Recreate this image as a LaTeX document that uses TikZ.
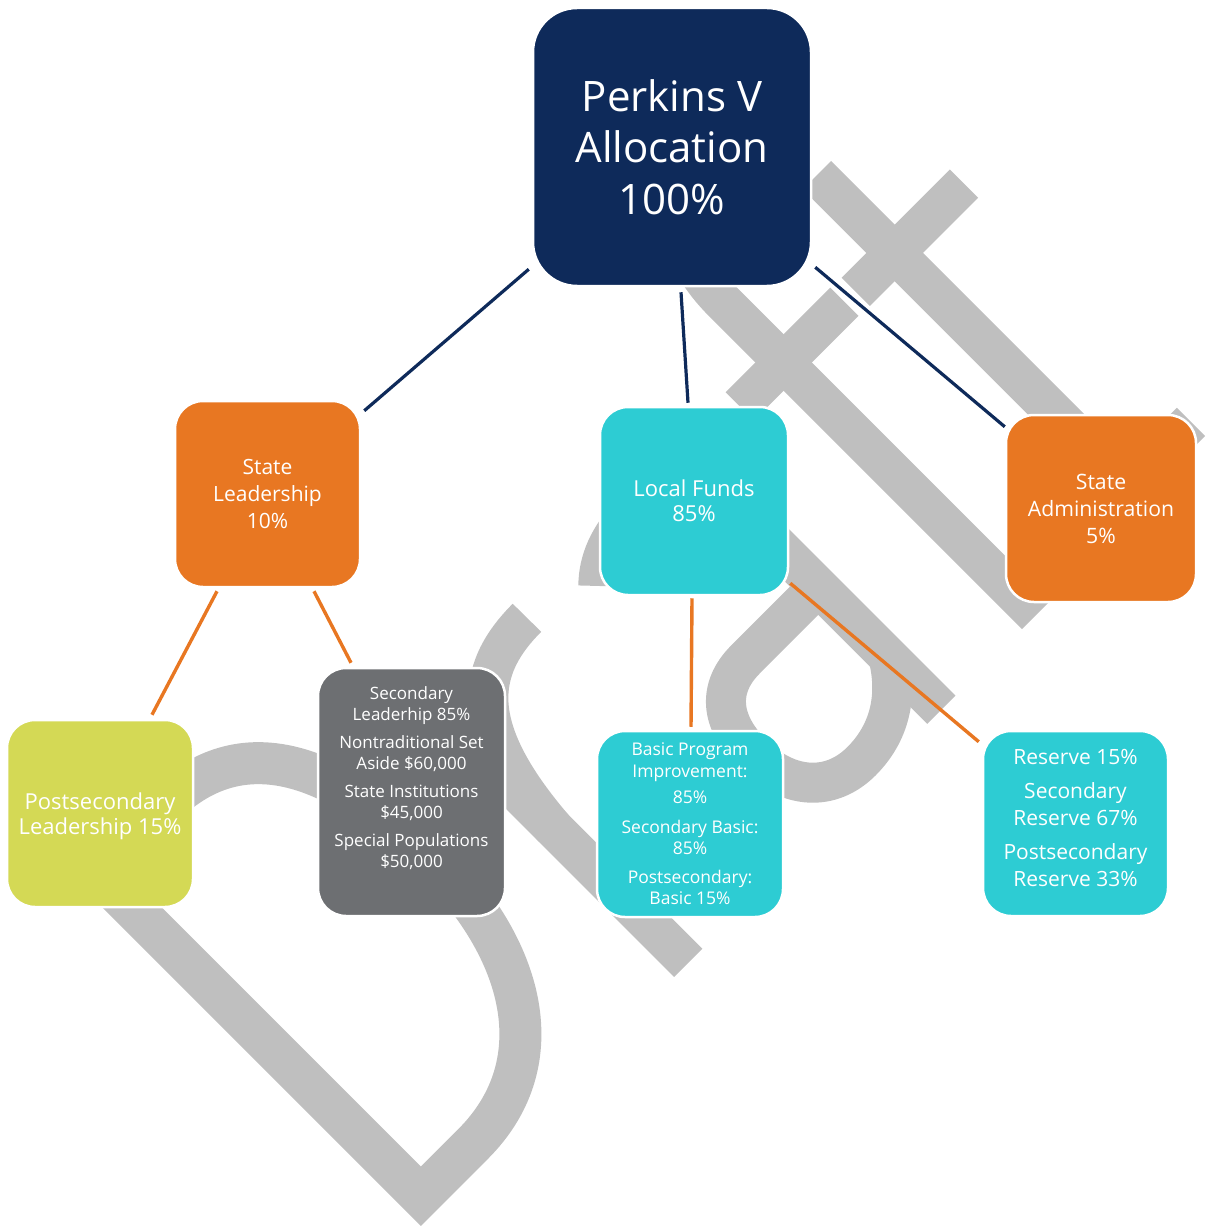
\documentclass[tikz,border=0pt]{standalone}
\usepackage{fontspec}
\setmainfont{Open Sans}
\usetikzlibrary{calc}
\definecolor{navy}{HTML}{0E2A5A}
\definecolor{orng}{HTML}{E87722}
\definecolor{teal}{HTML}{2DCCD3}
\definecolor{lime}{HTML}{D4D955}
\definecolor{slate}{HTML}{6D6F72}
\definecolor{wmgray}{HTML}{BFBFBF}
\begin{document}
\begin{tikzpicture}[x=0.5pt,y=-0.5pt,
  box/.style={draw=white, line width=1.25pt, rounded corners=14pt, text=white, align=center, inner sep=0pt},
  boxtext/.style={text=white, align=center, inner sep=0pt},
  navyline/.style={draw=navy, line width=1.6pt},
  orline/.style={draw=orng, line width=1.7pt}]
\useasboundingbox (0,0) rectangle (1207,1230);
% watermark "Draft", drawn as strokes in a frame rotated by 45 degrees
\begin{scope}[shift={(423,1228)}, x={(0.35355pt,0.35355pt)}, y={(-0.35355pt,0.35355pt)},
  wm/.style={draw=wmgray, line width=20pt, line cap=butt}]
  % D
  \draw[wm, line width=21pt, line join=miter] (21,482) -- (115,482) .. controls (225,482) and (268,390) .. (268,253)
     .. controls (268,118) and (205,24) .. (95,24) -- (21,24) -- cycle;
  % r
  \draw[wm] (375,0) -- (375,375);
  \draw[wm] (375,190) .. controls (385,320) and (430,358) .. (505,358);
  % a
  \draw[wm] (733,0) -- (733,280) .. controls (733,340) and (700,358) .. (655,358)
     .. controls (620,358) and (595,347) .. (578,330);
  \draw[wm] (733,174) -- (630,174) .. controls (590,174) and (568,148) .. (568,103)
     .. controls (568,50) and (598,20) .. (640,20) .. controls (680,20) and (712,40) .. (733,75);
  % f
  \draw[wm] (867,0) -- (867,440) .. controls (867,515) and (897,535) .. (942,535) -- (975,535);
  \draw[wm] (805,357) -- (953,357);
  % t
  \draw[wm] (1023,466) -- (1023,100) .. controls (1023,45) and (1050,27) .. (1085,27) -- (1113,27);
  \draw[wm] (968,356) -- (1121,356);
\end{scope}
% boxes
\node[box, fill=navy, rounded corners=22pt, minimum width=139pt, minimum height=139pt,
  font=\fontsize{21}{25.75}\selectfont] (main) at (672,147) {Perkins V\\Allocation\\100\%};
\node[box, fill=orng, minimum width=92.5pt, minimum height=93pt,
  font=\fontsize{10.5}{13.5}\selectfont] (sl) at (267.5,494) {State\\Leadership\\10\%};
\node[box, fill=teal, minimum width=94pt, minimum height=94pt,
  font=\fontsize{11}{12.5}\selectfont] (lf) at (694,501) {Local Funds\\85\%};
\node[box, fill=orng, minimum width=95pt, minimum height=93.5pt,
  font=\fontsize{10.6}{13.5}\selectfont] (sa) at (1101,508.5) {State\\Administration\\5\%};
\node[box, fill=lime, minimum width=93pt, minimum height=93.5pt] (pl) at (100,813.5) {};
\node[boxtext, font=\fontsize{11}{12.5}\selectfont] (pltext) at (100,816.5) {Postsecondary\\Leadership 15\%};
\node[box, fill=slate, minimum width=93.5pt, minimum height=124pt] (sec) at (411.5,792) {};
\node[boxtext, font=\fontsize{8.5}{10.75}\selectfont] (sectext) at (411.5,778)
  {Secondary\\Leaderhip 85\%\\[3pt]Nontraditional Set\\Aside \$60,000\\[3pt]State Institutions\\\$45,000\\[3pt]Special Populations\\\$50,000};
\node[box, fill=teal, minimum width=93pt, minimum height=93pt,
  font=\fontsize{8.75}{10.75}\selectfont] (bp) at (690,824) {Basic Program\\Improvement:\\[2.5pt]85\%\\[4pt]Secondary Basic:\\85\%\\[3.5pt]Postsecondary:\\Basic 15\%};
\node[box, fill=teal, minimum width=92.5pt, minimum height=92.5pt] (res) at (1075.5,823.5) {};
\node[boxtext, font=\fontsize{10.5}{13.75}\selectfont] (restext) at (1075.5,818)
  {Reserve 15\%\\[3pt]Secondary\\Reserve 67\%\\[3pt]Postsecondary\\Reserve 33\%};
% connectors
\draw[navyline] ($(main.south west)+(-3,-18)$) -- ($(sl.north east)+(3,11)$);
\draw[navyline] ($(main.south)+(9,5)$) -- ($(lf.north)+(-6,-3)$);
\draw[navyline] ($(main.south east)+(3,-20)$) -- ($(sa.north west)+(0,13)$);
\draw[orline] ($(sl.south)+(-50.5,3)$) -- ($(pl.north)+(52,-4)$);
\draw[orline] ($(sl.south)+(46.5,3)$) -- ($(sec.north)+(-60.5,-4)$);
\draw[orline] ($(lf.south)+(-2,2)$) -- ($(bp.north)+(1,-3)$);
\draw[orline] ($(lf.south east)+(1,-13)$) -- ($(res.north west)+(-3,12)$);
\end{tikzpicture}
\end{document}
